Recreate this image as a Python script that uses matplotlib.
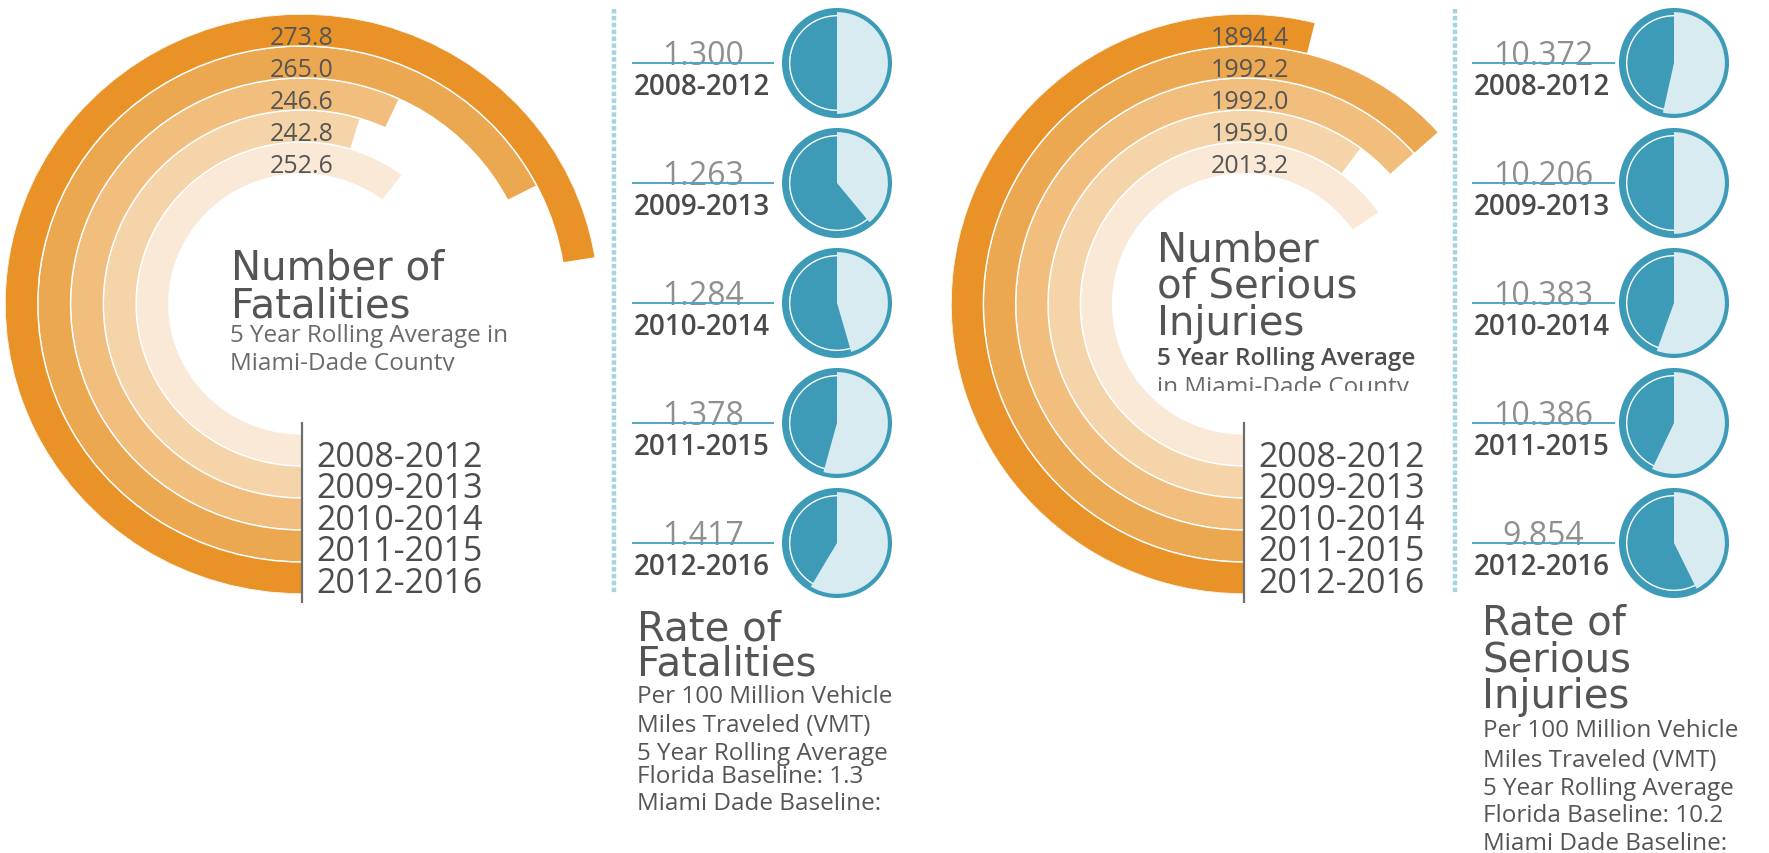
import matplotlib
matplotlib.use("Agg")
import matplotlib.pyplot as plt
import numpy as np
from matplotlib.patches import Circle
from matplotlib.transforms import Bbox, offset_copy

# ---------------- data ----------------
periods = ["2008-2012", "2009-2013", "2010-2014", "2011-2015", "2012-2016"]
fatalities = [252.6, 242.8, 246.6, 265.0, 273.8]
injuries = [2013.2, 1959.0, 1992.0, 1992.2, 1894.4]
fatality_rates = [1.300, 1.263, 1.284, 1.378, 1.417]
injury_rates = [10.372, 10.206, 10.383, 10.386, 9.854]
fatality_rate_share = [0.500, 0.390, 0.455, 0.543, 0.586]
injury_rate_share = [0.535, 0.500, 0.555, 0.571, 0.427]
florida_baseline_fatal = "1.3"
florida_baseline_inj = "10.2"

# angular value scales of the radial bars (value at 0 deg, value at 360 deg)
fatal_scale = (147.0, 322.0)
injury_scale = (1339.0, 2369.0)

ring_colors = ["#FAE9D6", "#F5D4A9", "#F1BE7E", "#ECA851", "#E89228"]
PIE_DARK = "#3D9BB8"
PIE_LIGHT = "#D7EBF1"
LINE_TEAL = "#4FA6C2"
DOT_BLUE = "#A6D3E0"
TXT = "#555555"
TXT_LIGHT = "#6a6a6a"
VAL_GRAY = "#8f8f8f"

TITLE_FONT = ["DejaVu Sans"]
BODY_FONT = ["Open Sans", "DejaVu Sans"]

# ---------------- figure ----------------
W, H, DPI = 1769, 854, 100
fig = plt.figure(figsize=(W / DPI, H / DPI), dpi=DPI, facecolor="white")


def px_axes(x0, y0, w, h, **kw):
    return fig.add_axes([x0 / W, 1 - (y0 + h) / H, w / W, h / H], **kw)


ov = px_axes(0, 0, W, H)
ov.set_xlim(0, W)
ov.set_ylim(H, 0)
ov.axis("off")
ov.set_zorder(20)
ov.patch.set_alpha(0)

R_IN, BAND, R_OUT = 130.0, 32.0, 290.0


def radial(cx, cy, rx, ry, values, scale, label_dx=0):
    ax = px_axes(cx - rx, cy - ry, 2 * rx, 2 * ry, projection="polar")
    ax.set_aspect("auto")
    ax.set_theta_zero_location("S")
    ax.set_theta_direction(-1)
    lo, hi = scale
    theta = (np.asarray(values) - lo) / (hi - lo) * 2 * np.pi
    bottoms = R_IN + np.arange(len(values)) * BAND
    ax.bar(np.zeros(len(values)), BAND, width=theta, bottom=bottoms,
           align="edge", color=ring_colors, edgecolor="white", linewidth=1.0)
    ax.set_ylim(0, R_OUT)
    ax.set_axis_off()
    tr = offset_copy(ax.transData, fig=fig, x=label_dx, y=0, units="dots")
    for v, b in zip(values, bottoms):
        ax.text(np.pi, b + BAND / 2 - 14, f"{v:.1f}", transform=tr,
                ha="center", va="baseline", fontsize=18, color=TXT,
                family=BODY_FONT)
    return ax


radial(302, 305, 297, 290, fatalities, fatal_scale)
radial(1244, 305, 293, 290, injuries, injury_scale, label_dx=6)

# vertical guide lines and period labels next to the radial charts
for vx in (302, 1244):
    ov.plot([vx, vx], [423, 604], color="#6e6e6e", lw=1.6, solid_capstyle="butt")
    for i, p in enumerate(periods):
        ov.text(vx + 14, 467 + i * 31.5, p, ha="left", va="baseline",
                fontsize=24.5, color="#4d4d4d", family=BODY_FONT)

# dotted separators
for sx in (614, 1455):
    ov.plot([sx, sx], [10, 594], color=DOT_BLUE, lw=3.2,
            linestyle=(0, (1, 0.55)), dash_capstyle="butt")


def clipped(x, y, s, clip_y, **kw):
    t = ov.text(x, y, s, **kw)
    t.set_clip_box(Bbox([[0, H - clip_y], [W, H]]))
    t.set_clip_on(True)
    return t


# titles inside the radial charts
ov.text(231, 280, "Number of", fontsize=29, color=TXT, family=TITLE_FONT, va="baseline")
ov.text(231, 318, "Fatalities", fontsize=29, color=TXT, family=TITLE_FONT, va="baseline")
ov.text(230, 342, "5 Year Rolling Average in", fontsize=17.5, color=TXT_LIGHT,
        family=BODY_FONT, va="baseline")
clipped(230, 370, "Miami-Dade County", 372, fontsize=17.5, color=TXT_LIGHT,
        family=BODY_FONT, va="baseline")

ov.text(1157, 262, "Number", fontsize=29, color=TXT, family=TITLE_FONT, va="baseline")
ov.text(1157, 298, "of Serious", fontsize=29, color=TXT, family=TITLE_FONT, va="baseline")
ov.text(1157, 335, "Injuries", fontsize=29, color=TXT, family=TITLE_FONT, va="baseline")
ov.text(1157, 365, "5 Year Rolling Average", fontsize=17.5, color="#4d4d4d",
        family=BODY_FONT, weight="semibold", va="baseline")
clipped(1157, 394, "in Miami-Dade County", 392, fontsize=17.5, color=TXT_LIGHT,
        family=BODY_FONT, va="baseline")

# ---------------- rate columns ----------------
ROW0, ROWSTEP, PR = 64.0, 120.0, 55


def rate_column(x_line0, x_line1, pie_cx, rates, shares):
    for i, (v, s, p) in enumerate(zip(rates, shares, periods)):
        ry = ROW0 + i * ROWSTEP
        ov.text((x_line0 + x_line1) / 2, ry + 1, f"{v:.3f}", ha="center",
                va="baseline", fontsize=23, color=VAL_GRAY, family=BODY_FONT,
                zorder=1)
        ov.plot([x_line0, x_line1], [ry, ry], color=LINE_TEAL, lw=1.4, zorder=2)
        ov.text(x_line0 + 1, ry + 31, p, ha="left", va="baseline", fontsize=20,
                color="#4a4a4a", family=BODY_FONT, weight="semibold")
        pa = px_axes(pie_cx - PR, ry - PR, 2 * PR, 2 * PR)
        pa.pie([1], colors=[PIE_DARK], radius=1.0, wedgeprops=dict(linewidth=0))
        pa.add_patch(Circle((0, 0), 0.86, fill=False, ec="white", lw=1.0))
        pa.pie([s, 1 - s], colors=[PIE_LIGHT, (0, 0, 0, 0)], radius=0.925,
               startangle=90, counterclock=False, wedgeprops=dict(linewidth=0))
        pa.set_xlim(-1.0, 1.0)
        pa.set_ylim(-1.0, 1.0)
        pa.set_aspect("equal")
        pa.axis("off")


rate_column(633, 773, 837, fatality_rates, fatality_rate_share)
rate_column(1473, 1614, 1674, injury_rates, injury_rate_share)

# rate descriptions
ov.text(637, 641, "Rate of", fontsize=29, color=TXT, family=TITLE_FONT, va="baseline")
ov.text(637, 676, "Fatalities", fontsize=29, color=TXT, family=TITLE_FONT, va="baseline")
for s, y in [("Per 100 Million Vehicle", 703), ("Miles Traveled (VMT)", 732),
             ("5 Year Rolling Average", 760),
             (f"Florida Baseline: {florida_baseline_fatal}", 783)]:
    ov.text(637, y, s, fontsize=17.5, color=TXT, family=BODY_FONT, va="baseline")
clipped(637, 810, "Miami Dade Baseline:", 812, fontsize=17.5, color=TXT,
        family=BODY_FONT, va="baseline")

ov.text(1482, 635, "Rate of", fontsize=29, color=TXT, family=TITLE_FONT, va="baseline")
ov.text(1482, 672, "Serious", fontsize=29, color=TXT, family=TITLE_FONT, va="baseline")
ov.text(1482, 708, "Injuries", fontsize=29, color=TXT, family=TITLE_FONT, va="baseline")
for s, y in [("Per 100 Million Vehicle", 737), ("Miles Traveled (VMT)", 767),
             ("5 Year Rolling Average", 795),
             (f"Florida Baseline: {florida_baseline_inj}", 822),
             ("Miami Dade Baseline:", 850)]:
    ov.text(1483, y, s, fontsize=17.5, color=TXT, family=BODY_FONT, va="baseline")

fig.savefig("out.png", dpi=DPI, facecolor="white")
